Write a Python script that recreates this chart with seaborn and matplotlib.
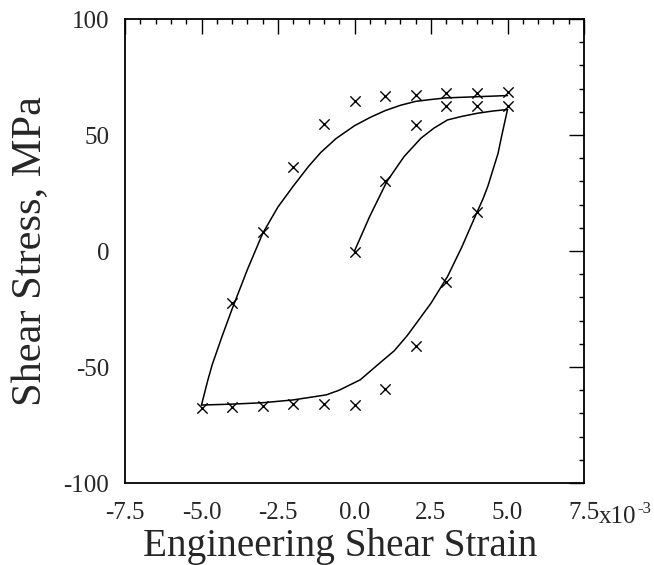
import matplotlib
matplotlib.use("Agg")
import matplotlib.pyplot as plt
import seaborn as sns
import pandas as pd
from matplotlib.ticker import MultipleLocator, FixedLocator, FixedFormatter

# ---- data (strain in 1e-3, stress in MPa) ----
loading_x = [0.0, 0.5, 1.06, 1.62, 2.17, 2.6, 3.04, 3.5, 4.03, 4.5, 5.0]
loading_y = [0.0, 15.0, 30.0, 40.7, 48.6, 53.0, 56.5, 58.0, 59.4, 60.3, 61.0]

unload_x = [5.0, 4.95, 4.9, 4.8, 4.69, 4.5, 4.36, 4.2, 3.98, 3.5, 3.04, 2.5, 2.0,
            1.72, 1.3, 0.85, 0.19, -0.5, -0.92, -2.01, -3.0, -4.0, -5.0]
unload_y = [61.0, 58.0, 55.0, 49.0, 42.0, 34.0, 28.0, 22.5, 16.0, 1.5, -11.0, -22.5, -31.5,
            -36.5, -43.0, -48.0, -55.5, -60.0, -62.0, -64.2, -65.4, -66.0, -66.4]

upper_x = [-5.0, -4.8, -4.65, -4.32, -4.0, -3.5, -3.0, -2.5, -2.0, -1.5, -1.1, -0.6,
           0.0, 0.5, 1.0, 1.5, 2.0, 2.5, 3.0, 4.0, 5.0]
upper_y = [-66.4, -56.0, -49.0, -36.5, -25.0, -8.0, 7.6, 19.0, 28.0, 36.5, 42.5, 48.5,
           54.0, 57.5, 60.5, 62.8, 64.5, 65.3, 66.0, 66.5, 67.0]

mark_x = [0, 1, 2, 3, 4, 5,
          4, 3, 2, 1, 0, -1, -2, -3, -4, -5,
          -4, -3, -2, -1, 0, 1, 2, 3, 4, 5]
mark_y = [-0.5, 30.0, 54.5, 62.5, 62.5, 62.5,
          17.0, -13.5, -41.0, -59.5, -66.3, -66.0, -66.0, -66.7, -67.4, -67.8,
          -22.4, 8.0, 36.0, 54.7, 64.5, 67.0, 67.2, 68.0, 68.0, 68.5]

x_ticks = [-7.5, -5.0, -2.5, 0.0, 2.5, 5.0, 7.5]
x_ticklabels = ["-7.5", "-5.0", "-2.5", "0.0", "2.5", "5.0", "7.5"]
y_ticks = [-100, -50, 0, 50, 100]
y_ticklabels = ["-100", "-50", "0", "50", "100"]

# ---- style ----
sns.set_style("white")
plt.rcParams["font.family"] = ["Liberation Serif", "DejaVu Serif"]
plt.rcParams["axes.unicode_minus"] = False

fig = plt.figure(figsize=(6.54, 5.65), dpi=100)
ax = fig.add_axes([125 / 654, 1 - 483 / 565, 459 / 654, 464 / 565])

for xs, ys in [(loading_x, loading_y), (unload_x, unload_y), (upper_x, upper_y)]:
    df = pd.DataFrame({"x": xs, "y": ys})
    sns.lineplot(data=df, x="x", y="y", sort=False, estimator=None,
                 color="black", linewidth=1.1, ax=ax)

dm = pd.DataFrame({"x": mark_x, "y": mark_y})
sns.scatterplot(data=dm, x="x", y="y", marker="x", s=55, color="black",
                linewidth=1.0, ax=ax, zorder=3)

ax.set_xlim(-7.5, 7.5)
ax.set_ylim(-100, 100)
ax.xaxis.set_major_locator(FixedLocator(x_ticks))
ax.xaxis.set_major_formatter(FixedFormatter(x_ticklabels))
ax.yaxis.set_major_locator(FixedLocator(y_ticks))
ax.yaxis.set_major_formatter(FixedFormatter(y_ticklabels))
ax.xaxis.set_minor_locator(MultipleLocator(0.5))
ax.yaxis.set_minor_locator(MultipleLocator(10))

ax.tick_params(which="both", direction="in", top=True, right=True,
               color="black", width=1.0)
ax.tick_params(which="major", length=10.5)
ax.tick_params(which="minor", length=3.6)
ax.tick_params(axis="x", which="major", labelsize=18, pad=14)
ax.tick_params(axis="y", which="major", labelsize=18, pad=11.5)

for sp in ax.spines.values():
    sp.set_visible(True)
    sp.set_color("black")
    sp.set_linewidth(1.3)

ax.set_xlabel("Engineering Shear Strain", fontsize=28.3)
ax.set_ylabel("Shear Stress, MPa", fontsize=30.5)
ax.xaxis.set_label_coords(0.468, -0.098)
ax.yaxis.set_label_coords(-0.163, 0.5)

# multiplier text after the last tick label
ax.annotate("x10", xy=(1.0, 0.0), xycoords="axes fraction",
            xytext=(11, -28.8), textcoords="offset points",
            ha="left", va="baseline", fontsize=18)
ax.annotate("-3", xy=(1.0, 0.0), xycoords="axes fraction",
            xytext=(38.5, -21.5), textcoords="offset points",
            ha="left", va="baseline", fontsize=12)

fig.savefig("out.png", dpi=100, facecolor="white")
